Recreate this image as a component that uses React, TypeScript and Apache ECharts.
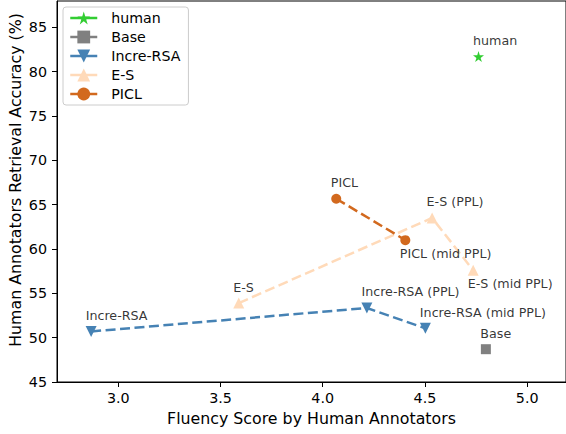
import React, { useEffect, useRef } from "react";
import * as echarts from "echarts";

const humanX = [4.762];
const humanY = [81.7];
const humanNames = ["human"];

const baseX = [4.798];
const baseY = [48.7];
const baseNames = ["Base"];

const increX = [2.867, 4.216, 4.502];
const increY = [50.7, 53.35, 51.05];
const increNames = ["Incre-RSA", "Incre-RSA (PPL)", "Incre-RSA (mid PPL)"];

const esX = [3.589, 4.535, 4.736];
const esY = [53.9, 63.5, 57.6];
const esNames = ["E-S", "E-S (PPL)", "E-S (mid PPL)"];

const piclX = [4.066, 4.404];
const piclY = [65.67, 61.0];
const piclNames = ["PICL", "PICL (mid PPL)"];

const xTicks = [3.0, 3.5, 4.0, 4.5, 5.0];
const yTicks = [45, 50, 55, 60, 65, 70, 75, 80, 85];

const legendNames = ["human", "Base", "Incre-RSA", "E-S", "PICL"];

const FONT = "DejaVu Sans";
const STAR =
  "path://M50,0 L61.2,34.5 L97.6,34.5 L68.2,55.9 L79.4,90.5 L50,69.1 L20.6,90.5 L31.8,55.9 L2.4,34.5 L38.8,34.5 Z";

const belowSet = new Set(["PICL (mid PPL)", "E-S (mid PPL)"]);

const zip = (xs: number[], ys: number[]) => xs.map((x, i) => [x, ys[i]]);

export default function App() {
  const ref = useRef<HTMLDivElement>(null);
  useEffect(() => {
    if (!ref.current) return;
    const chart = echarts.init(ref.current, null, { renderer: "svg" });

    const allLabels: any[] = [];
    const addLabels = (xs: number[], ys: number[], ns: string[]) => {
      xs.forEach((x, i) => {
        const below = belowSet.has(ns[i]);
        allLabels.push({
          value: [x, ys[i]],
          name: ns[i],
          label: { position: below ? [-5, 7] : [-5, -22] },
        });
      });
    };
    addLabels(humanX, humanY, humanNames);
    addLabels(baseX, baseY, baseNames);
    addLabels(increX, increY, increNames);
    addLabels(esX, esY, esNames);
    addLabels(piclX, piclY, piclNames);

    const lineSeries = (
      name: string,
      data: number[][],
      color: string,
      symbol: string,
      size: number,
      rotate = 0
    ) => ({
      type: "line",
      name,
      data,
      symbol,
      symbolSize: size,
      symbolRotate: rotate,
      showAllSymbol: true,
      color,
      itemStyle: { color, opacity: 1 },
      lineStyle: { color, width: 2.5, type: [10, 4.5] },
      z: 3,
    });

    chart.setOption({
      animation: false,
      textStyle: { fontFamily: FONT },
      grid: { left: 57, right: -1, top: 1, bottom: 52, show: true, borderColor: "#000", borderWidth: 1 },
      xAxis: {
        type: "value",
        min: 2.7,
        max: 5.19,
        name: "Fluency Score by Human Annotators",
        nameLocation: "middle",
        nameGap: 28,
        nameTextStyle: { fontSize: 15.8, color: "#000", fontFamily: FONT },
        axisLine: { show: true, lineStyle: { color: "#000", width: 1 } },
        axisTick: { show: true, customValues: xTicks, length: 5, lineStyle: { color: "#000" } },
        axisLabel: {
          customValues: xTicks,
          formatter: (v: number) => v.toFixed(1),
          fontSize: 14.3,
          color: "#000",
          margin: 9,
          fontFamily: FONT,
        },
        splitLine: { show: false },
      },
      yAxis: {
        type: "value",
        min: 45,
        max: 87.97,
        axisLine: { show: true, lineStyle: { color: "#000", width: 1 } },
        axisTick: { show: true, customValues: yTicks, length: 5, lineStyle: { color: "#000" } },
        axisLabel: {
          customValues: yTicks,
          fontSize: 14.3,
          color: "#000",
          margin: 10,
          fontFamily: FONT,
        },
        splitLine: { show: false },
      },
      graphic: [
        {
          type: "text",
          x: 15,
          y: 180,
          rotation: Math.PI / 2,
          style: {
            text: "Human Annotators Retrieval Accuracy (%)",
            fontSize: 15.8,
            fontFamily: FONT,
            fill: "#000",
            align: "center",
            verticalAlign: "middle",
          },
        },
      ],
      legend: {
        data: legendNames,
        orient: "vertical",
        left: 63,
        top: 7,
        padding: [4, 8, 4, 6],
        itemGap: 5,
        itemWidth: 27,
        itemHeight: 16,
        backgroundColor: "rgba(255,255,255,0.8)",
        borderColor: "#cccccc",
        borderWidth: 1,
        borderRadius: 3,
        lineStyle: { type: "solid", width: 2.5 },
        textStyle: { fontSize: 14.2, color: "#000", fontFamily: FONT, padding: [0, 0, 0, 9] },
      },
      series: [
        lineSeries("human", zip(humanX, humanY), "#32CD32", STAR, 11),
        lineSeries("Base", zip(baseX, baseY), "#808080", "rect", 10),
        lineSeries("Incre-RSA", zip(increX, increY), "#4682B4", "triangle", 11, 180),
        lineSeries("E-S", zip(esX, esY), "#FFDAB9", "triangle", 11),
        lineSeries("PICL", zip(piclX, piclY), "#D2691E", "circle", 10),
        {
          type: "scatter",
          name: "__labels",
          data: allLabels,
          symbolSize: 1,
          itemStyle: { color: "rgba(0,0,0,0)" },
          silent: true,
          z: 5,
          label: {
            show: true,
            formatter: (p: any) => p.name,
            fontSize: 12.7,
            color: "#000",
            fontFamily: FONT,
            align: "left",
            verticalAlign: "top",
          },
        },
      ],
    });
    return () => chart.dispose();
  }, []);
  return <div ref={ref} style={{ width: 566, height: 434, position: "absolute", left: 0, top: 0 }} />;
}
